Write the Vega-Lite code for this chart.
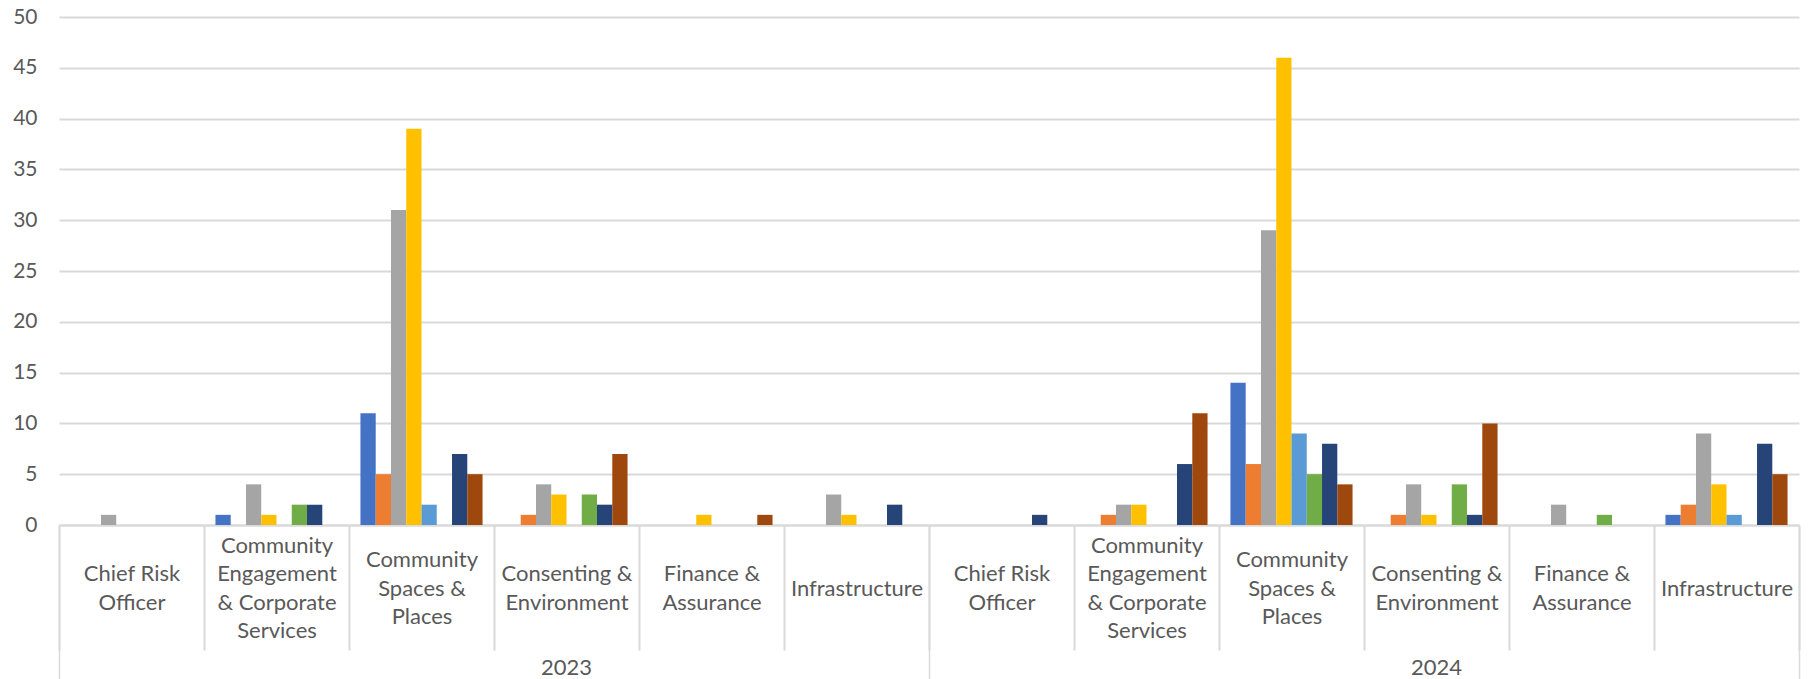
{
  "$schema": "https://vega.github.io/schema/vega-lite/v6.json",
  "width": 1740,
  "height": 508,
  "autosize": {"type": "none"},
  "padding": {"left": 59, "top": 17, "right": 13, "bottom": 154},
  "config": {"view": {"stroke": null}, "font": "Lato"},
  "data": {
    "values": [
      {"year": "2023", "dept": "Chief Risk Officer", "series": "Series 3", "value": 1},
      {"year": "2023", "dept": "Community Engagement & Corporate Services", "series": "Series 1", "value": 1},
      {"year": "2023", "dept": "Community Engagement & Corporate Services", "series": "Series 3", "value": 4},
      {"year": "2023", "dept": "Community Engagement & Corporate Services", "series": "Series 4", "value": 1},
      {"year": "2023", "dept": "Community Engagement & Corporate Services", "series": "Series 6", "value": 2},
      {"year": "2023", "dept": "Community Engagement & Corporate Services", "series": "Series 7", "value": 2},
      {"year": "2023", "dept": "Community Spaces & Places", "series": "Series 1", "value": 11},
      {"year": "2023", "dept": "Community Spaces & Places", "series": "Series 2", "value": 5},
      {"year": "2023", "dept": "Community Spaces & Places", "series": "Series 3", "value": 31},
      {"year": "2023", "dept": "Community Spaces & Places", "series": "Series 4", "value": 39},
      {"year": "2023", "dept": "Community Spaces & Places", "series": "Series 5", "value": 2},
      {"year": "2023", "dept": "Community Spaces & Places", "series": "Series 7", "value": 7},
      {"year": "2023", "dept": "Community Spaces & Places", "series": "Series 8", "value": 5},
      {"year": "2023", "dept": "Consenting & Environment", "series": "Series 2", "value": 1},
      {"year": "2023", "dept": "Consenting & Environment", "series": "Series 3", "value": 4},
      {"year": "2023", "dept": "Consenting & Environment", "series": "Series 4", "value": 3},
      {"year": "2023", "dept": "Consenting & Environment", "series": "Series 6", "value": 3},
      {"year": "2023", "dept": "Consenting & Environment", "series": "Series 7", "value": 2},
      {"year": "2023", "dept": "Consenting & Environment", "series": "Series 8", "value": 7},
      {"year": "2023", "dept": "Finance & Assurance", "series": "Series 4", "value": 1},
      {"year": "2023", "dept": "Finance & Assurance", "series": "Series 8", "value": 1},
      {"year": "2023", "dept": "Infrastructure", "series": "Series 3", "value": 3},
      {"year": "2023", "dept": "Infrastructure", "series": "Series 4", "value": 1},
      {"year": "2023", "dept": "Infrastructure", "series": "Series 7", "value": 2},
      {"year": "2024", "dept": "Chief Risk Officer", "series": "Series 7", "value": 1},
      {"year": "2024", "dept": "Community Engagement & Corporate Services", "series": "Series 2", "value": 1},
      {"year": "2024", "dept": "Community Engagement & Corporate Services", "series": "Series 3", "value": 2},
      {"year": "2024", "dept": "Community Engagement & Corporate Services", "series": "Series 4", "value": 2},
      {"year": "2024", "dept": "Community Engagement & Corporate Services", "series": "Series 7", "value": 6},
      {"year": "2024", "dept": "Community Engagement & Corporate Services", "series": "Series 8", "value": 11},
      {"year": "2024", "dept": "Community Spaces & Places", "series": "Series 1", "value": 14},
      {"year": "2024", "dept": "Community Spaces & Places", "series": "Series 2", "value": 6},
      {"year": "2024", "dept": "Community Spaces & Places", "series": "Series 3", "value": 29},
      {"year": "2024", "dept": "Community Spaces & Places", "series": "Series 4", "value": 46},
      {"year": "2024", "dept": "Community Spaces & Places", "series": "Series 5", "value": 9},
      {"year": "2024", "dept": "Community Spaces & Places", "series": "Series 6", "value": 5},
      {"year": "2024", "dept": "Community Spaces & Places", "series": "Series 7", "value": 8},
      {"year": "2024", "dept": "Community Spaces & Places", "series": "Series 8", "value": 4},
      {"year": "2024", "dept": "Consenting & Environment", "series": "Series 2", "value": 1},
      {"year": "2024", "dept": "Consenting & Environment", "series": "Series 3", "value": 4},
      {"year": "2024", "dept": "Consenting & Environment", "series": "Series 4", "value": 1},
      {"year": "2024", "dept": "Consenting & Environment", "series": "Series 6", "value": 4},
      {"year": "2024", "dept": "Consenting & Environment", "series": "Series 7", "value": 1},
      {"year": "2024", "dept": "Consenting & Environment", "series": "Series 8", "value": 10},
      {"year": "2024", "dept": "Finance & Assurance", "series": "Series 3", "value": 2},
      {"year": "2024", "dept": "Finance & Assurance", "series": "Series 6", "value": 1},
      {"year": "2024", "dept": "Infrastructure", "series": "Series 1", "value": 1},
      {"year": "2024", "dept": "Infrastructure", "series": "Series 2", "value": 2},
      {"year": "2024", "dept": "Infrastructure", "series": "Series 3", "value": 9},
      {"year": "2024", "dept": "Infrastructure", "series": "Series 4", "value": 4},
      {"year": "2024", "dept": "Infrastructure", "series": "Series 5", "value": 1},
      {"year": "2024", "dept": "Infrastructure", "series": "Series 7", "value": 8},
      {"year": "2024", "dept": "Infrastructure", "series": "Series 8", "value": 5}
    ]
  },
  "transform": [{"calculate": "datum.year + '|' + datum.dept", "as": "key"}],
  "layer": [
    {
      "mark": {"type": "bar"},
      "encoding": {
        "x": {
          "field": "key",
          "type": "nominal",
          "scale": {"paddingInner": 0, "paddingOuter": 0},
          "axis": {
            "orient": "bottom",
            "title": null,
            "labelAngle": 0,
            "grid": false,
            "labelExpr": "!isString(datum.value) ? '' : indexof(datum.value,'Chief')>=0 ? ['Chief Risk','Officer'] : indexof(datum.value,'Engagement')>=0 ? ['Community','Engagement','& Corporate','Services'] : indexof(datum.value,'Spaces')>=0 ? ['Community','Spaces &','Places'] : indexof(datum.value,'Consenting')>=0 ? ['Consenting &','Environment'] : indexof(datum.value,'Finance')>=0 ? ['Finance &','Assurance'] : indexof(datum.value,'Infra')>=0 ? 'Infrastructure' : ''",
            "labelFont": "Lato",
            "labelFontSize": 22,
            "labelColor": "#595959",
            "labelBaseline": "middle",
            "labelAlign": "center",
            "labelLineHeight": 28.5,
            "labelPadding": {
              "condition": [
                {"test": "isString(datum.value) && indexof(datum.value,'Engagement') >= 0", "value": -104.75},
                {"test": "isString(datum.value) && indexof(datum.value,'Spaces') >= 0", "value": -90.5},
                {"test": "isString(datum.value) && (indexof(datum.value,'Chief') >= 0 || indexof(datum.value,'Consenting') >= 0 || indexof(datum.value,'Finance') >= 0)", "value": -76.25}
              ],
              "value": -62
            },
            "labelOverlap": false,
            "tickBand": "extent",
            "tickSize": 125,
            "tickColor": "#d9d9d9",
            "tickWidth": 2,
            "domainColor": "#d9d9d9",
            "domainWidth": 2
          }
        },
        "xOffset": {
          "field": "series",
          "type": "nominal",
          "scale": {
            "domain": ["Series 1", "Series 2", "Series 3", "Series 4", "Series 5", "Series 6", "Series 7", "Series 8"],
            "paddingInner": 0,
            "paddingOuter": 0.75
          }
        },
        "y": {
          "field": "value",
          "type": "quantitative",
          "scale": {"domain": [0, 50], "nice": false},
          "axis": {
            "title": null,
            "values": [0, 5, 10, 15, 20, 25, 30, 35, 40, 45, 50],
            "domain": false,
            "ticks": false,
            "gridColor": "#d9d9d9",
            "gridWidth": 2,
            "labelFont": "Lato",
            "labelFontSize": 21,
            "labelColor": "#595959",
            "labelPadding": 22
          }
        },
        "color": {
          "field": "series",
          "type": "nominal",
          "legend": null,
          "scale": {
            "domain": ["Series 1", "Series 2", "Series 3", "Series 4", "Series 5", "Series 6", "Series 7", "Series 8"],
            "range": ["#4472C4", "#ED7D31", "#A5A5A5", "#FFC000", "#5B9BD5", "#70AD47", "#264478", "#9E480E"]
          }
        }
      }
    },
    {
      "mark": {"type": "bar", "opacity": 0},
      "encoding": {
        "x": {
          "field": "key",
          "type": "nominal",
          "axis": {
            "orient": "bottom",
            "title": null,
            "values": ["2023|Chief Risk Officer", "2024|Chief Risk Officer"],
            "bandPosition": 0,
            "tickExtra": false,
            "domain": false,
            "grid": false,
            "labelAngle": 0,
            "labelExpr": "isString(datum.value) ? slice(datum.value, 0, 4) : ''",
            "labelOffset": 435,
            "labelFont": "Lato",
            "labelFontSize": 22,
            "labelColor": "#595959",
            "labelBaseline": "middle",
            "labelAlign": "center",
            "labelPadding": -12,
            "labelOverlap": false,
            "tickSize": 154,
            "tickColor": "#d9d9d9",
            "tickWidth": 1.5
          }
        }
      }
    },
    {
      "mark": {"type": "bar", "opacity": 0},
      "encoding": {
        "x": {
          "field": "key",
          "type": "nominal",
          "axis": {
            "orient": "bottom",
            "title": null,
            "values": ["2024|Infrastructure"],
            "bandPosition": 1,
            "tickExtra": false,
            "domain": false,
            "grid": false,
            "labels": false,
            "tickSize": 154,
            "tickColor": "#d9d9d9",
            "tickWidth": 1.5
          }
        }
      }
    }
  ],
  "resolve": {"axis": {"x": "independent"}}
}
